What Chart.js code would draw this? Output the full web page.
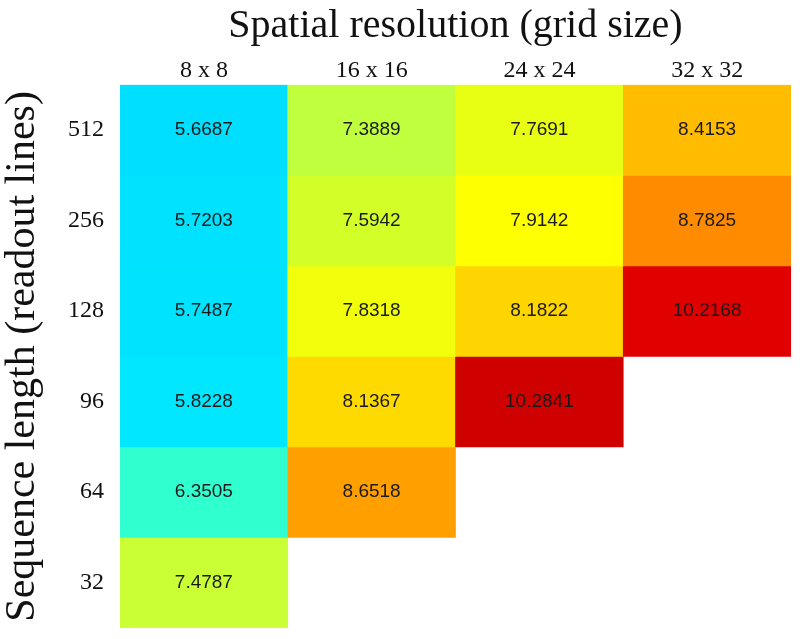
<!DOCTYPE html>
<html lang="en">
<head>
<meta charset="utf-8">
<title>Heatmap</title>
<style>
  body { margin: 0; background: #fff; }
  #wrap { width: 800px; height: 639px; }
</style>
</head>
<body>

<div id="wrap">
  <canvas id="myChart" width="800" height="639"></canvas>
</div>

<script src="https://cdn.jsdelivr.net/npm/chart.js@4.4.0/dist/chart.umd.min.js"></script>
<script>
// columns (grid size) and rows (sequence length)
const gridSizes = ['8 x 8', '16 x 16', '24 x 24', '32 x 32'];
const seqLengths = ['512', '256', '128', '96', '64', '32'];

// one array per row, values for 8x8, 16x16, 24x24, 32x32 (null = no cell)
const len512 = [5.6687, 7.3889, 7.7691, 8.4153];
const len256 = [5.7203, 7.5942, 7.9142, 8.7825];
const len128 = [5.7487, 7.8318, 8.1822, 10.2168];
const len96  = [5.8228, 8.1367, 10.2841, null];
const len64  = [6.3505, 8.6518, null, null];
const len32  = [7.4787, null, null, null];
const rows = [len512, len256, len128, len96, len64, len32];

// colormap (jet-like), value -> rgb
const cmapStops = [
  [5.60, [0, 220, 255]],
  [5.85, [0, 232, 255]],
  [6.35, [48, 255, 208]],
  [7.40, [194, 255, 60]],
  [7.60, [212, 255, 40]],
  [7.80, [236, 255, 16]],
  [7.92, [255, 255, 0]],
  [8.15, [255, 216, 0]],
  [8.42, [255, 188, 0]],
  [8.65, [255, 160, 0]],
  [8.78, [255, 140, 0]],
  [10.22, [224, 0, 0]],
  [10.29, [204, 0, 0]]
];

function colorFor(v) {
  if (v <= cmapStops[0][0]) return 'rgb(' + cmapStops[0][1].join(',') + ')';
  for (let i = 1; i < cmapStops.length; i++) {
    const [v1, c1] = cmapStops[i];
    const [v0, c0] = cmapStops[i - 1];
    if (v <= v1) {
      const t = (v - v0) / (v1 - v0);
      const c = c0.map((a, k) => Math.round(a + (c1[k] - a) * t));
      return 'rgb(' + c.join(',') + ')';
    }
  }
  return 'rgb(' + cmapStops[cmapStops.length - 1][1].join(',') + ')';
}

const nRows = seqLengths.length;

// each row is a dataset of floating bars spanning [row bottom, row top]
const datasets = rows.map((vals, i) => ({
  label: seqLengths[i],
  data: vals.map(v => v == null ? null : [nRows - 1 - i, nRows - i]),
  values: vals,
  backgroundColor: vals.map(v => v == null ? 'rgba(0,0,0,0)' : colorFor(v)),
  borderWidth: 0,
  barPercentage: 1.0,
  categoryPercentage: 1.0,
  grouped: false
}));

// white background
const bgColor = {
  id: 'bgColor',
  beforeDraw: (chart) => {
    const { ctx, width, height } = chart;
    ctx.save();
    ctx.fillStyle = '#ffffff';
    ctx.fillRect(0, 0, width, height);
    ctx.restore();
  }
};

// numbers inside the cells
const cellLabels = {
  id: 'cellLabels',
  afterDatasetsDraw: (chart) => {
    const ctx = chart.ctx;
    ctx.save();
    ctx.font = '19px "Liberation Sans", Arial, sans-serif';
    ctx.fillStyle = '#1a1a1a';
    ctx.textAlign = 'center';
    ctx.textBaseline = 'middle';
    chart.data.datasets.forEach((ds, di) => {
      const meta = chart.getDatasetMeta(di);
      meta.data.forEach((bar, j) => {
        const v = ds.values[j];
        if (v == null) return;
        const p = bar.getCenterPoint();
        ctx.fillText(v.toFixed(4), p.x, p.y);
      });
    });
    ctx.restore();
  }
};

const serif = '"Liberation Serif", "Times New Roman", serif';

const config = {
  type: 'bar',
  data: {
    labels: gridSizes,
    datasets: datasets
  },
  options: {
    responsive: false,
    animation: false,
    layout: {
      padding: { left: 0, right: 9, top: 0, bottom: 11 }
    },
    plugins: {
      legend: { display: false },
      tooltip: { enabled: false }
    },
    scales: {
      x: {
        position: 'top',
        grid: { display: false, drawTicks: false },
        border: { display: false },
        ticks: {
          color: '#111',
          padding: 0,
          font: { family: serif, size: 24 }
        },
        title: {
          display: true,
          text: 'Spatial resolution (grid size)',
          color: '#111',
          padding: { top: 6, bottom: 10 },
          font: { family: serif, size: 40, lineHeight: 1 }
        }
      },
      y: {
        type: 'linear',
        min: 0,
        max: nRows,
        grid: { display: false, drawTicks: false },
        border: { display: false },
        afterBuildTicks: (scale) => {
          scale.ticks = seqLengths.map((_, i) => ({ value: nRows - 0.5 - i }));
        },
        afterFit: (scale) => {
          // rows fill the whole height, no room needed for edge labels
          scale.paddingTop = 0;
          scale.paddingBottom = 0;
        },
        ticks: {
          color: '#111',
          padding: 16,
          font: { family: serif, size: 24 },
          callback: (value) => seqLengths[Math.round(nRows - 0.5 - value)]
        },
        title: {
          display: true,
          text: 'Sequence length (readout lines)',
          color: '#111',
          padding: { top: 2, bottom: 8 },
          font: { family: serif, size: 42, lineHeight: 1 }
        }
      }
    }
  },
  plugins: [bgColor, cellLabels]
};

const myChart = new Chart(document.getElementById('myChart'), config);
</script>
</body>
</html>
